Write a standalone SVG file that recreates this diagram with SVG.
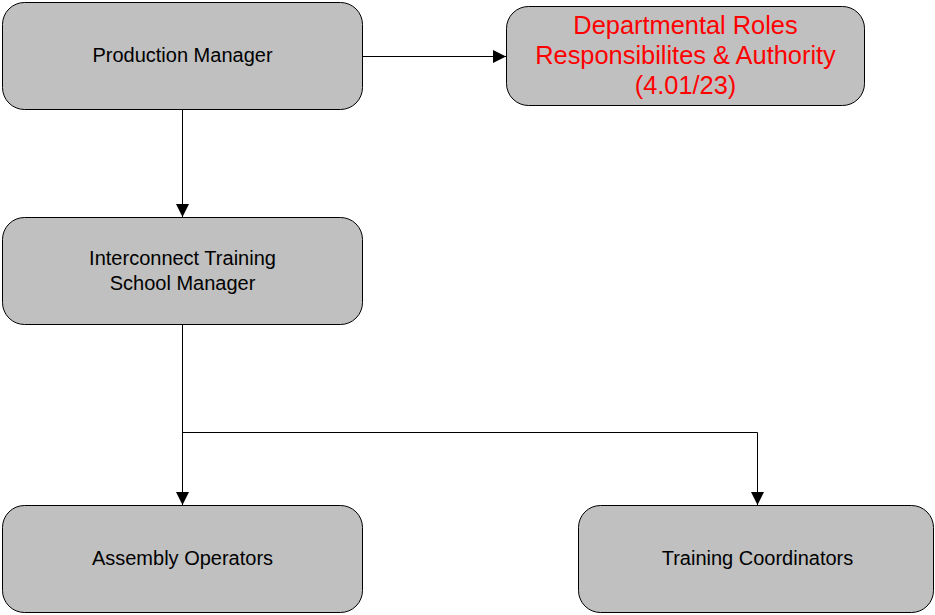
<svg xmlns="http://www.w3.org/2000/svg" width="935" height="615" viewBox="0 0 935 615">
<style>
.box{fill:#c0c0c0;stroke:#000;stroke-width:1}
.t{font-family:"Liberation Sans",Arial,sans-serif;font-size:20px;fill:#000;text-anchor:middle}
.r{font-family:"Liberation Sans",Arial,sans-serif;font-size:25.4px;fill:#ff0000;text-anchor:middle}
.c{fill:none;stroke:#000;stroke-width:1}
</style>
<defs>
<marker id="ah" markerUnits="userSpaceOnUse" markerWidth="14" markerHeight="14" refX="13" refY="6.5" orient="auto">
<path d="M0,0 L13,6.5 L0,13 Z" fill="#000"/>
</marker>
</defs>
<g id="connectors">
<path class="c" d="M362.5,56.5 H506" marker-end="url(#ah)"/>
<path class="c" d="M182.5,109 V217" marker-end="url(#ah)"/>
<path class="c" d="M182.5,325 V505" marker-end="url(#ah)"/>
<path class="c" d="M182.5,432.5 H757.5 V505" marker-end="url(#ah)"/>
</g>
<g id="production-manager">
<rect class="box" x="2.5" y="2.5" width="360" height="107" rx="22"/>
<text class="t" x="182.5" y="62">Production Manager</text>
</g>
<g id="departmental-roles">
<rect class="box" x="506.5" y="6.5" width="358" height="99" rx="22"/>
<text class="r" x="685.5" y="34">Departmental Roles</text>
<text class="r" x="685.5" y="64">Responsibilites &amp; Authority</text>
<text class="r" x="685.5" y="94">(4.01/23)</text>
</g>
<g id="interconnect-training">
<rect class="box" x="2.5" y="217.5" width="360" height="107" rx="22"/>
<text class="t" x="182.5" y="265">Interconnect Training</text>
<text class="t" x="182.5" y="290">School Manager</text>
</g>
<g id="assembly-operators">
<rect class="box" x="2.5" y="505.5" width="360" height="107" rx="22"/>
<text class="t" x="182.5" y="565">Assembly Operators</text>
</g>
<g id="training-coordinators">
<rect class="box" x="578.5" y="505.5" width="355" height="107" rx="22"/>
<text class="t" x="757.5" y="565">Training Coordinators</text>
</g>
</svg>
